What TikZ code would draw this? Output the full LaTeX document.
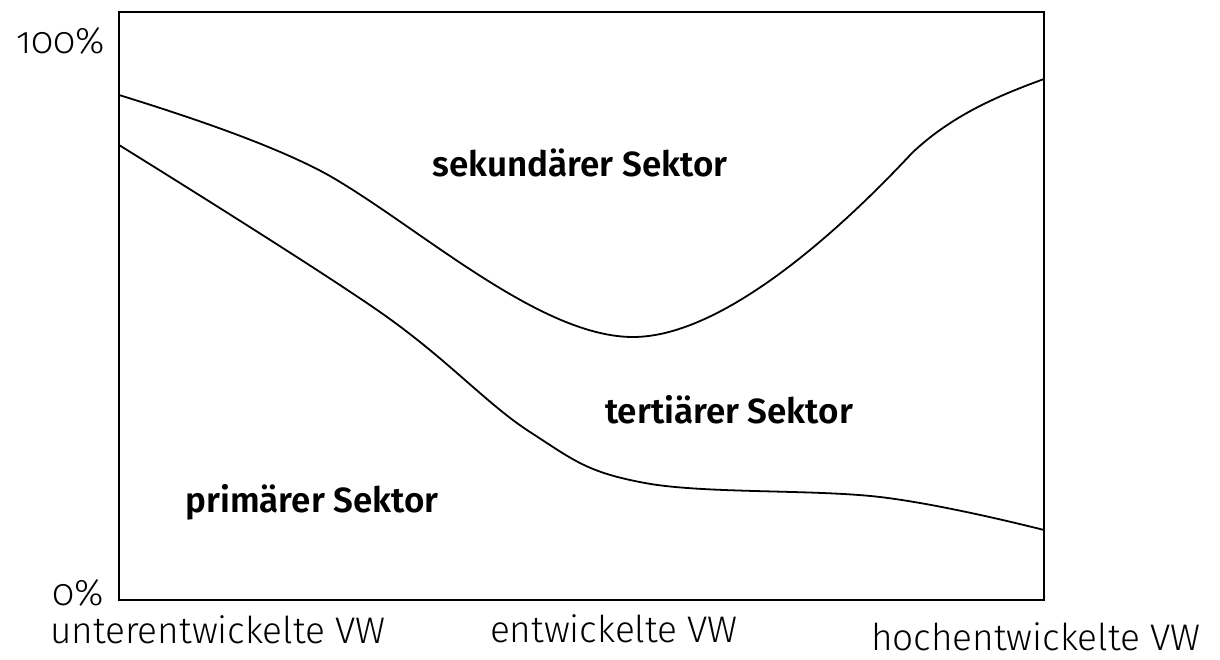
\documentclass[tikz,border=0pt]{standalone}
\usepackage{fontspec}
\setmainfont{Fira Sans Light}[Numbers=OldStyle, BoldFont={Fira Sans SemiBold}]
\begin{document}
\begin{tikzpicture}[x=1pt,y=-1pt,
  curve/.style={line width=1.8pt, line join=round},
  frame/.style={line width=2.2pt},
  lab/.style={font=\fontsize{37}{40}\selectfont, inner sep=0pt, anchor=base},
  sect/.style={font=\fontsize{35}{38}\selectfont\bfseries, inner sep=0pt, anchor=base}]
\useasboundingbox (0,0) rectangle (1220,659);
\draw[frame] (119,12) rectangle (1044,600);
\coordinate (u0) at (119,95);
\coordinate (u1) at (330,176);
\coordinate (u2) at (633,337);
\coordinate (u3) at (912,153);
\coordinate (u4) at (1044,79);
\draw[curve] (u0) .. controls (200,120) and (280,148) .. (u1)
  .. controls (420,228) and (540,337) .. (u2)
  .. controls (725,337) and (845,225) .. (u3)
  .. controls (952,115) and (1000,95) .. (u4);
\draw[curve] plot[smooth, tension=0.6] coordinates {(119,145) (380,312) (530,432) (645,483) (880,497) (1044,530)};
\node[sect] (sek) at (580,176) {sekundärer Sektor};
\node[sect] (ter) at (729,423) {tertiärer Sektor};
\node[sect] (pri) at (312,512) {primärer Sektor};
\node[lab] (h) at (61,53) {100\%};
\node[lab] (z) at (78,605) {0\%};
\node[lab] (u) at (218,643) {unterentwickelte VW};
\node[lab] (e) at (614,642) {entwickelte VW};
\node[lab] (hv) at (1036,650) {hochentwickelte VW};
\end{tikzpicture}
\end{document}
